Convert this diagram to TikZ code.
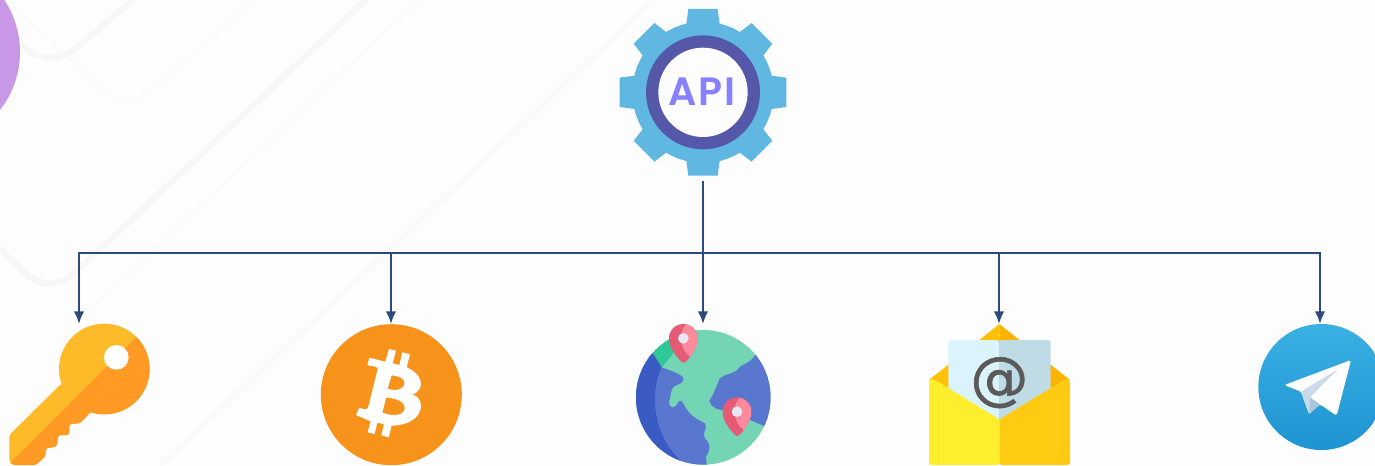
\documentclass[tikz,border=0pt]{standalone}
\usepackage{fontspec}
\usetikzlibrary{arrows.meta}
\newfontfamily\apifont[LetterSpace=4]{Poppins SemiBold}
\newfontfamily\atfont[FakeBold=1.1]{DejaVu Sans}
\definecolor{paperwhite}{RGB}{253, 253, 253}
\definecolor{ghostline}{RGB}{247, 247, 247}
\definecolor{ghostfaint}{RGB}{250, 250, 250}
\definecolor{orchid}{RGB}{200, 151, 230}
\definecolor{busblue}{RGB}{44, 74, 124}
\definecolor{gearsky}{RGB}{95, 183, 226}
\definecolor{gearindigo}{RGB}{85, 88, 168}
\definecolor{apiviolet}{RGB}{135, 128, 255}
\definecolor{keygold}{RGB}{253, 187, 42}
\definecolor{keyorange}{RGB}{255, 154, 36}
\definecolor{coinorange}{RGB}{247, 147, 26}
\definecolor{seablue}{RGB}{90, 119, 208}
\definecolor{deepsea}{RGB}{58, 91, 196}
\definecolor{landmint}{RGB}{116, 213, 181}
\definecolor{landgreen}{RGB}{46, 199, 149}
\definecolor{pinrose}{RGB}{255, 138, 155}
\definecolor{pinred}{RGB}{229, 90, 117}
\definecolor{pinwhite}{RGB}{230, 230, 245}
\definecolor{flapamber}{RGB}{255, 193, 7}
\definecolor{flapdark}{RGB}{255, 179, 0}
\definecolor{sheetlight}{RGB}{219, 243, 250}
\definecolor{sheetdark}{RGB}{190, 219, 230}
\definecolor{atgrey}{RGB}{90, 90, 90}
\definecolor{frontlemon}{RGB}{255, 238, 46}
\definecolor{frontgold}{RGB}{255, 202, 18}
\definecolor{teletop}{RGB}{58, 176, 227}
\definecolor{telebottom}{RGB}{30, 147, 210}
\definecolor{foldlight}{RGB}{201, 218, 234}
\definecolor{folddark}{RGB}{169, 198, 218}
\tikzset{
    ghostwide/.style={draw=ghostline, line width=3.4pt, rounded corners=18pt},
    ghostthin/.style={draw=ghostfaint, line width=0.9pt, rounded corners=18pt},
    busline/.style={draw=busblue, line width=1.25pt},
    busarrow/.style={busline, -{Latex[length=7.2pt,width=6pt]}},
    trunkline/.style={draw=busblue, line width=1.4pt},
}
\newcommand{\mappin}[2]{
    \begin{scope}[shift={(#1,#2)}]
        \fill[pinred]  (-6,70) .. controls (-25,50) and (-43,25) .. (-43,0) .. controls (-43,-24) and (-24,-43) .. (0,-43) .. controls (24,-43) and (43,-24) .. (43,0) .. controls (43,25) and (25,50) .. (8,70) .. controls (4,74) and (-2,74) .. (-6,70) -- cycle;
        \fill[pinrose] (8,-42) .. controls (26,-38) and (43,-22) .. (43,0) .. controls (43,22) and (30,42) .. (20,55) .. controls (-6,38) and (-20,-12) .. (8,-42) -- cycle;
        \fill[pinwhite] (0,0) circle (16);
    \end{scope}
}
\begin{document}
\begin{tikzpicture}[x=0.02cm, y=-0.02cm]
    \clip (0,0) rectangle (1375,466);
    \fill[paperwhite] (0,0) rectangle (1375,466);

    \draw[ghostwide] (140,-6) -- (50,70) -- (0,24);
    \draw[ghostthin] (20,12) -- (125,112) -- (262,-6);
    \draw[ghostwide] (372,-6) -- (50,296) -- (-10,240);
    \draw[ghostthin] (425,-6) -- (90,310);
    \draw[ghostthin, line width=3.4pt] (660,-6) -- (160,466);

    \fill[orchid] (-74,52) circle (94);

    \begin{scope}[shift={(600,0)}, scale=1/3]
        \foreach \toothangle in {0,45,...,315}
            \fill[gearsky, rotate around={\toothangle:(309,277)}] (258,80) -- (265,27) -- (353,27) -- (360,80) -- cycle;
        \fill[gearsky]    (309,277) circle (212);
        \fill[gearindigo] (309,277) circle (171);
        \fill[paperwhite] (309,277) circle (134);
    \end{scope}
    \node[circle, minimum size=3.56cm, inner sep=0pt, outer sep=0pt] (gear) at (703,92) {};
    \node[text=apiviolet, font=\apifont\fontsize{22.5}{22.5}\selectfont, inner sep=0pt] (apilabel) at (702,92) {API};

    \begin{scope}[shift={(0,300)}, scale=1/3]
        \fill[keygold] (313,207) circle (136);
        \fill[keygold, rounded corners=1.5pt] (185,250) -- (28,405) -- (28,485) -- (38,495) -- (108,495) -- (137,468) -- (137,445) -- (170,440) -- (175,405) -- (208,405) -- (208,372) -- (240,370) -- (270,338) -- (330,300) -- cycle;
        \begin{scope}
            \clip (408,112) -- (33,487) -- (33,520) -- (480,520) -- (480,112) -- cycle;
            \fill[keyorange] (313,207) circle (136);
            \fill[keyorange, rounded corners=1.5pt] (185,250) -- (28,405) -- (28,485) -- (38,495) -- (108,495) -- (137,468) -- (137,445) -- (170,440) -- (175,405) -- (208,405) -- (208,372) -- (240,370) -- (270,338) -- (330,300) -- cycle;
        \end{scope}
        \fill[white] (349,172) circle (37);
    \end{scope}

    \fill[coinorange] (391.3,394.7) circle (70.5);
    \begin{scope}[shift={(310,310)}, scale=1/3]
        \fill[white, even odd rule] (178,143) -- (226,155) -- (237,117) -- (258,122) -- (248,160) -- (268,165) -- (277,127) -- (300,133) -- (290,172) .. controls (335,190) and (350,235) .. (308,254) .. controls (350,265) and (345,345) .. (245,347) -- (236,382) -- (214,376) -- (222,343) -- (202,338) -- (194,372) -- (173,367) -- (182,334) -- (138,315) -- (148,293) .. controls (165,300) and (172,300) .. (175,290) -- (203,178) .. controls (205,170) and (190,168) .. (172,166) -- cycle
            (245,196) -- (233,236) .. controls (262,246) and (282,236) .. (284,220) .. controls (284,202) and (262,198) .. (245,196) -- cycle
            (229,262) -- (217,308) .. controls (255,322) and (284,314) .. (284,294) .. controls (284,272) and (255,266) .. (229,262) -- cycle;
    \end{scope}

    \begin{scope}[shift={(620,310)}, scale=1/3]
        \begin{scope}
            \clip (250,262) circle (202);
            \fill[landmint] (250,262) circle (202);
            \fill[landgreen] (90,120) -- (160,80) -- (160,130) -- (125,172) -- (85,150) -- cycle;
            \fill[seablue] (125,172) .. controls (160,185) and (195,195) .. (190,212) .. controls (185,225) and (155,225) .. (155,240) .. controls (150,265) and (140,290) .. (158,292) .. controls (175,290) and (170,270) .. (185,272) .. controls (205,310) and (215,320) .. (255,340) .. controls (265,355) and (245,365) .. (255,385) .. controls (275,405) and (270,420) .. (258,440) -- (262,480) -- (20,480) -- (20,120) -- (98,130) -- cycle;
            \fill[deepsea] (98,130) -- (125,172) .. controls (90,240) and (95,370) .. (180,450) -- (180,480) -- (20,480) -- (20,130) -- cycle;
            \fill[seablue] (408,130) .. controls (395,155) and (385,155) .. (360,170) .. controls (345,195) and (310,190) .. (298,208) .. controls (285,240) and (280,255) .. (268,272) .. controls (275,295) and (295,302) .. (320,300) -- (432,348) -- (480,348) -- (480,130) -- cycle;
        \end{scope}
        \mappin{190}{85}
        \mappin{351}{305}
    \end{scope}

    \begin{scope}[shift={(915,310)}, scale=1/3]
        \fill[flapamber] (253,42) -- (42,210) -- (253,330) -- cycle;
        \fill[flapdark]  (253,42) -- (465,210) -- (253,330) -- cycle;
        \fill[sheetlight, rounded corners=1.5pt] (253,90) -- (100,90) -- (100,340) -- (253,340) -- cycle;
        \fill[sheetdark,  rounded corners=1.5pt] (253,90) -- (407,90) -- (407,340) -- (253,340) -- cycle;
        \node[text=atgrey, font=\atfont\fontsize{33}{33}\selectfont, inner sep=0pt] (atsign) at (253,218) {@};
        \fill[frontlemon, rounded corners=1.5pt] (253,328) -- (52,205) -- (42,213) -- (42,465) -- (253,465) -- cycle;
        \fill[frontgold,  rounded corners=1.5pt] (253,328) -- (455,205) -- (465,213) -- (465,465) -- (253,465) -- cycle;
    \end{scope}

    \begin{scope}[shift={(1245,310)}, scale=1/3]
        \shade[top color=teletop, bottom color=telebottom] (229,231) circle (189);
        \fill[white, rounded corners=1pt] (318,150) -- (118,225) -- (168,245) -- (192,312) -- (225,283) -- (275,317) -- cycle;
        \fill[foldlight] (168,245) -- (278,178) -- (195,262) -- (192,312) -- cycle;
        \fill[folddark]  (195,262) -- (192,312) -- (225,283) -- cycle;
    \end{scope}

    \coordinate (keytop)   at (79,324);
    \coordinate (cointop)  at (391,324);
    \coordinate (globetop) at (703,324);
    \coordinate (mailtop)  at (999,324);
    \coordinate (teletop)  at (1320,324);
    \coordinate (busjoint) at (703,253);

    \draw[trunkline] (gear.south) -- (busjoint);
    \foreach \target in {keytop,cointop,mailtop,teletop}
        \draw[busarrow] (busjoint) -| (\target);
    \draw[busarrow] (busjoint) -- (globetop);
\end{tikzpicture}
\end{document}
